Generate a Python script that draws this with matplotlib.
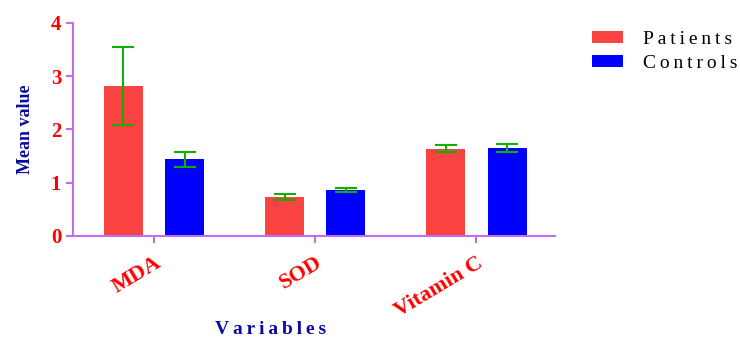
import matplotlib
matplotlib.use('Agg')
import matplotlib.pyplot as plt
import numpy as np

variables = ['MDA', 'SOD', 'Vitamin C']
groups = ['Patients', 'Controls']
patients_mean = [2.82, 0.73, 1.64]
patients_err = [0.73, 0.05, 0.06]
controls_mean = [1.44, 0.86, 1.65]
controls_err = [0.14, 0.04, 0.08]

red = '#f94343'
blue = '#0000ff'
green = '#11b000'
purple = '#c06ef0'
navy = '#0a0aa0'


def spaced(s):
    # the reference text is letter-spaced, use thin spaces between letters
    return '\u2009'.join(s)


plt.rcParams['font.family'] = ['Liberation Serif', 'DejaVu Serif']

fig = plt.figure(figsize=(7.4, 3.38), dpi=100)
ax = fig.add_axes([0.0986, 0.302, 0.652, 0.630])

x = np.arange(len(variables))
w = 0.242
off = 0.19

ax.bar(x - off, patients_mean, w, color=red, label=spaced(groups[0]), zorder=2)
ax.bar(x + off, controls_mean, w, color=blue, label=spaced(groups[1]), zorder=2)
ax.errorbar(x - off, patients_mean, yerr=patients_err, fmt='none', ecolor=green,
            elinewidth=1.5, capsize=8, capthick=1.5, zorder=3)
ax.errorbar(x + off, controls_mean, yerr=controls_err, fmt='none', ecolor=green,
            elinewidth=1.5, capsize=8, capthick=1.5, zorder=3)

ax.set_xlim(-0.503, 2.49)
ax.set_ylim(0, 4)
ax.set_yticks([0, 1, 2, 3, 4])

for s in ['top', 'right']:
    ax.spines[s].set_visible(False)
for s in ['left', 'bottom']:
    ax.spines[s].set_color(purple)
    ax.spines[s].set_linewidth(1.5)

ax.tick_params(axis='both', colors=purple, width=1.5, length=5)
ax.tick_params(axis='x', pad=7)
ax.set_xticks(x)
ax.set_xticklabels(variables, rotation=31, ha='right', rotation_mode='anchor',
                   color='red', fontsize=16, fontweight='bold')
for lab in ax.get_yticklabels():
    lab.set_color('red')
    lab.set_fontsize(15)
    lab.set_fontweight('bold')

ax.set_ylabel('Mean value', color=navy, fontsize=13, fontweight='bold', labelpad=12)
fig.text(0.366, 0.024, spaced('Variables'), color=navy, fontsize=14,
         fontweight='bold', ha='center', va='center')

fig.legend(loc='upper left', bbox_to_anchor=(592 / 740, 1 - 31 / 338), frameon=False,
           fontsize=14, handlelength=1.6, handleheight=0.55, handletextpad=1.0,
           labelspacing=0.35, borderpad=0, borderaxespad=0)

fig.savefig('out.png', dpi=100)
